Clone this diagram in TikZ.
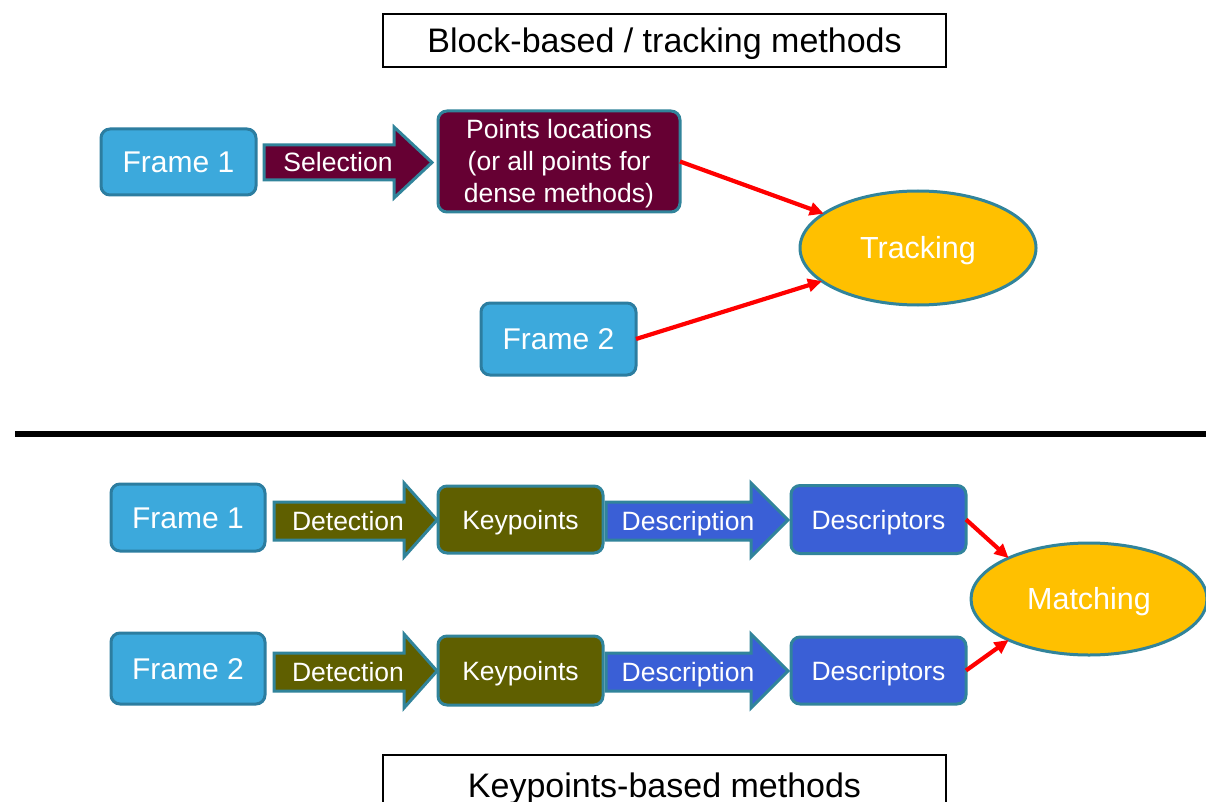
\documentclass[tikz,border=0pt]{standalone}
\usepackage{fontspec}
\setmainfont{Liberation Sans}
\usetikzlibrary{arrows.meta,shapes.geometric}
\definecolor{frameblue}{HTML}{3CA9DC}
\definecolor{frameedge}{HTML}{2C7DA0}
\definecolor{edgeteal}{HTML}{31849B}
\definecolor{maroonfill}{HTML}{660033}
\definecolor{olivefill}{HTML}{5F5F00}
\definecolor{royalfill}{HTML}{3A5FD6}
\definecolor{goldfill}{HTML}{FFC000}
\definecolor{redline}{HTML}{FF0000}
\begin{document}
\begin{tikzpicture}[x=1pt,y=-1pt,
  box/.style={draw=edgeteal, line width=3pt, rounded corners=9pt, text=white,
    inner sep=0pt, outer sep=0pt, text height=19pt, text depth=0pt,
    font=\fontsize{26.5}{30}\selectfont},
  framebox/.style={box, fill=frameblue, draw=frameedge, text height=21.5pt,
    font=\fontsize{30}{32}\selectfont},
  pointbox/.style={draw=edgeteal, line width=3pt, rounded corners=9pt, fill=maroonfill,
    inner sep=0pt, outer sep=0pt},
  pointtext/.style={text=white, align=center, inner sep=0pt, font=\fontsize{26.5}{32}\selectfont},
  keybox/.style={box, fill=olivefill},
  descbox/.style={box, fill=royalfill},
  oval/.style={ellipse, draw=edgeteal, line width=3pt, fill=goldfill, text=white,
    inner sep=0pt, outer sep=0pt, text height=21.8pt, text depth=0pt,
    font=\fontsize{30.5}{34}\selectfont},
  arrowbody/.style={draw=edgeteal, line width=3pt, line join=miter},
  arrowlabel/.style={text=white, inner sep=0pt, text height=19pt, text depth=0pt,
    font=\fontsize{26.5}{30}\selectfont},
  titlebox/.style={draw=black, line width=1.2pt, fill=white, inner sep=0pt,
    text height=24.3pt, text depth=0pt,
    font=\fontsize{34}{36}\selectfont, minimum width=563pt},
  redarrow/.style={draw=redline, line width=4.2pt, -{Triangle[length=14pt,width=13pt]}}
]
\useasboundingbox (0,0) rectangle (1206,802);
\fill[white] (0,0) rectangle (1206,802);

% ---------- top part ----------
\node[titlebox, minimum height=53pt] (ttop) at (664.5,40.5) {Block-based / tracking methods};

\node[framebox, minimum width=155pt, minimum height=66pt] (f1t) at (178.5,162) {Frame 1};
\draw[arrowbody, fill=maroonfill] (264,145) -- (394,145) -- (394,127) -- (432,162.5)
  -- (394,198) -- (394,180) -- (264,180) -- cycle;
\node[arrowlabel] (sel) at (338,162) {Selection};
\node[pointbox, minimum width=242pt, minimum height=101pt] (pts) at (559,161.5) {};
\node[pointtext] (ptstext) at (559,163.5)
  {Points locations\\(or all points for\\dense methods)};
\node[framebox, minimum width=155pt, minimum height=72pt] (f2t) at (558.5,339) {Frame 2};
\node[oval, minimum width=236pt, minimum height=114pt] (track) at (918,248) {Tracking};

\draw[redarrow] (pts.east) -- (track.160);
\draw[redarrow] (f2t.east) -- (track.199.5);

% ---------- separator ----------
\coordinate (sepL) at (15,434);
\coordinate (sepR) at (1206,434);
\draw[line width=6pt, black] (sepL) -- (sepR);

% ---------- bottom part ----------
\node[framebox, minimum width=154pt, minimum height=67pt] (f1b) at (188,517.5) {Frame 1};
\node[framebox, minimum width=154pt, minimum height=71pt] (f2b) at (188,668.5) {Frame 2};

\draw[arrowbody, fill=olivefill] (274,502) -- (404,502) -- (404,483) -- (437,520)
  -- (404,557) -- (404,540) -- (274,540) -- cycle;
\node[arrowlabel] (det1) at (348,521) {Detection};
\draw[arrowbody, fill=olivefill] (274,653) -- (404,653) -- (404,634) -- (437,671)
  -- (404,708) -- (404,691) -- (274,691) -- cycle;
\node[arrowlabel] (det2) at (348,672) {Detection};

\node[keybox, minimum width=165pt, minimum height=67pt] (kp1) at (520.5,519.5) {Keypoints};
\node[keybox, minimum width=165pt, minimum height=69pt] (kp2) at (520.5,670.5) {Keypoints};

\draw[arrowbody, fill=royalfill] (606,502) -- (751,502) -- (751,483) -- (788,520)
  -- (751,557) -- (751,540) -- (606,540) -- cycle;
\node[arrowlabel] (dsc1) at (688,521) {Description};
\draw[arrowbody, fill=royalfill] (606,653) -- (751,653) -- (751,634) -- (788,671)
  -- (751,708) -- (751,691) -- (606,691) -- cycle;
\node[arrowlabel] (dsc2) at (688,672) {Description};

\node[descbox, minimum width=175pt, minimum height=68pt] (ds1) at (878.5,519.5) {Descriptors};
\node[descbox, minimum width=175pt, minimum height=67pt] (ds2) at (878.5,670.5) {Descriptors};

\node[oval, minimum width=236pt, minimum height=112pt] (match) at (1089,599) {Matching};

\draw[redarrow] (ds1.east) -- (match.153.4);
\draw[redarrow] (ds2.east) -- (match.207.7);

\node[titlebox, minimum height=60pt] (tbot) at (664.5,785) {Keypoints-based methods};
\end{tikzpicture}
\end{document}
